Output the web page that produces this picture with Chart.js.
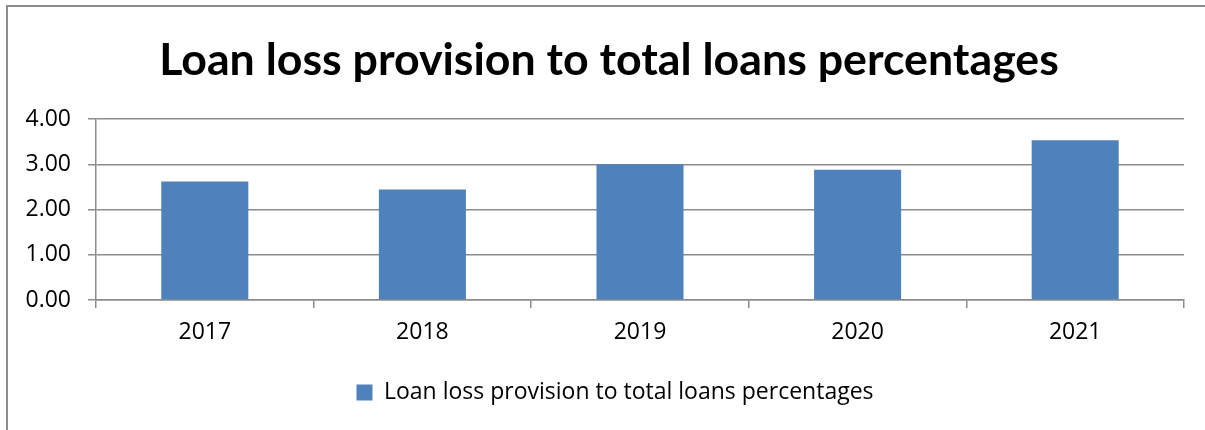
<!DOCTYPE html>
<html>
<head>
<meta charset="utf-8">
<script src="https://cdn.jsdelivr.net/npm/chart.js@4.4.1/dist/chart.umd.min.js"></script>
<style>
  html, body { margin: 0; padding: 0; background: #fff; }
  #wrap { position: relative; width: 1205px; height: 430px; overflow: hidden; }
  #frame { position: absolute; left: 6px; top: 5px; width: 1300px; height: 500px;
           border-left: 2px solid #8c8c8c; border-top: 2px solid #8c8c8c; }
  canvas { position: absolute; left: 0; top: 0; }
</style>
</head>
<body>
<div id="wrap">
  <div id="frame"></div>
  <canvas id="provisionChart" width="1205" height="430"></canvas>
</div>
<script>
// Loan loss provision / total loans, in percent
const years = ['2017', '2018', '2019', '2020', '2021'];
const provisionPct = [2.62, 2.44, 3.00, 2.88, 3.53];
const yTicks = [0, 1, 2, 3, 4];
const seriesName = 'Loan loss provision to total loans percentages';

const gridGray = '#8c8c8c';
const barBlue = '#4f81bd';

Chart.defaults.font.family = "'Open Sans', 'Liberation Sans', sans-serif";
Chart.defaults.color = '#000';

// title and legend are centred on the whole frame, not on the plot area
const recentreBlocks = {
  id: 'recentreBlocks',
  afterLayout(chart) {
    if (chart.titleBlock) chart.titleBlock.left += 34;
    if (chart.legend) chart.legend.left += 46;
    if (chart.legend && chart.legend.legendHitBoxes) {
      chart.legend.legendHitBoxes.forEach(b => { b.left += 23; });
    }
  }
};

const ctx = document.getElementById('provisionChart').getContext('2d');
new Chart(ctx, {
  type: 'bar',
  data: {
    labels: years,
    datasets: [{
      label: seriesName,
      data: provisionPct,
      backgroundColor: barBlue,
      borderWidth: 0,
      barPercentage: 0.4,
      categoryPercentage: 1.0
    }]
  },
  options: {
    responsive: false,
    devicePixelRatio: 1,
    animation: false,
    layout: { padding: { left: 0, right: 21, top: 0, bottom: 16 } },
    plugins: {
      title: {
        display: true,
        text: seriesName,
        font: { family: 'Lato', size: 44.7, weight: 'bold', lineHeight: 1.2 },
        padding: { top: 34, bottom: 31.4 }
      },
      legend: {
        position: 'bottom',
        labels: { font: { size: 23 }, boxWidth: 16, boxHeight: 16, padding: 10 }
      },
      tooltip: { enabled: false }
    },
    scales: {
      x: {
        grid: { offset: true, drawOnChartArea: false, tickLength: 8, color: gridGray, lineWidth: 1.5 },
        border: { color: gridGray, width: 1.5 },
        ticks: { font: { size: 23 }, padding: 11 },
        afterFit: (s) => { s.height = 71; }
      },
      y: {
        min: yTicks[0],
        max: yTicks[yTicks.length - 1],
        afterBuildTicks: (s) => { s.ticks = yTicks.map(v => ({ value: v })); },
        grid: { color: gridGray, lineWidth: 1.5, tickLength: 8 },
        border: { color: gridGray, width: 1.5 },
        ticks: { font: { size: 23 }, padding: 17, callback: (v) => Number(v).toFixed(2) },
        afterFit: (s) => { s.width = 96; }
      }
    }
  },
  plugins: [recentreBlocks]
});
</script>
</body>
</html>
